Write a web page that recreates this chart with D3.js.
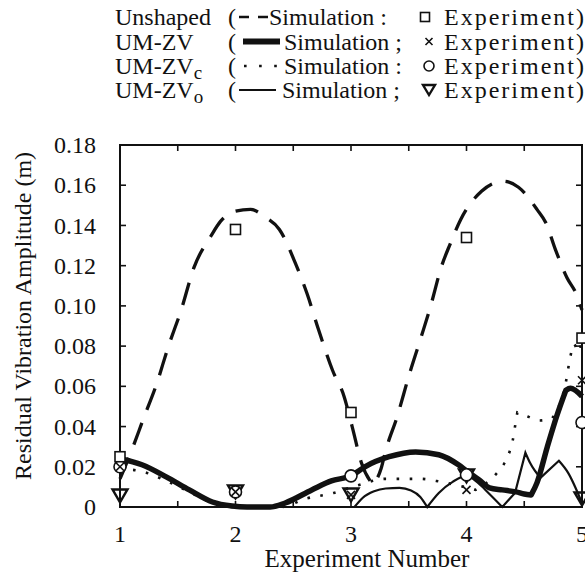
<!DOCTYPE html>
<html>
<head>
<meta charset="utf-8">
<script src="https://cdn.jsdelivr.net/npm/d3@7"></script>
<style>
    body { margin: 0; background: #fff; }
    svg text { font-family: "Liberation Serif", "Times New Roman", serif; fill: #111; }
</style>
</head>
<body>
<div id="chart"></div>
<script>
// == DATA == //
const experimentNumbers = [1, 2, 3, 4, 5];
const xTickValues = [1, 1.5, 2, 2.5, 3, 3.5, 4, 4.5, 5];
const yTickValues = [0, 0.02, 0.04, 0.06, 0.08, 0.10, 0.12, 0.14, 0.16, 0.18];
const yTickLabels = ["0", "0.02", "0.04", "0.06", "0.08", "0.10", "0.12", "0.14", "0.16", "0.18"];

// simulation curves [experiment number, amplitude]
const unshapedSim = [[1.00, 0.014], [1.10, 0.028], [1.21, 0.045], [1.31, 0.060], [1.42, 0.080], [1.53, 0.098],
    [1.64, 0.119], [1.79, 0.135], [1.87, 0.142], [1.99, 0.147], [2.13, 0.148], [2.26, 0.144], [2.38, 0.138],
    [2.52, 0.121], [2.62, 0.106], [2.72, 0.088], [2.84, 0.068], [2.94, 0.055], [3.01, 0.040], [3.09, 0.022],
    [3.19, 0.011], [3.26, 0.019], [3.30, 0.028], [3.40, 0.045], [3.50, 0.065], [3.61, 0.085], [3.69, 0.100],
    [3.78, 0.119], [3.86, 0.131], [3.95, 0.143], [4.13, 0.157], [4.32, 0.162], [4.45, 0.159], [4.61, 0.148],
    [4.69, 0.141], [4.77, 0.128], [4.87, 0.114], [4.95, 0.106], [5.00, 0.098]];
const zvSim = [[1.00, 0.024], [1.19, 0.021], [1.40, 0.015], [1.60, 0.0085], [1.80, 0.0025], [1.97, 0.0005],
    [2.10, 0], [2.30, 0], [2.43, 0.002], [2.66, 0.0085], [2.83, 0.013], [3.00, 0.0155], [3.12, 0.020],
    [3.33, 0.025], [3.56, 0.0274], [3.76, 0.026], [3.93, 0.021], [4.00, 0.018], [4.11, 0.0134], [4.20, 0.0095],
    [4.31, 0.0085], [4.43, 0.0075], [4.50, 0.0065], [4.56, 0.006], [4.61, 0.012], [4.70, 0.030], [4.78, 0.045],
    [4.86, 0.058], [4.90, 0.059], [5.00, 0.055]];
const zvcSim = [[1.00, 0.019], [1.20, 0.0175], [1.40, 0.013], [1.60, 0.0075], [1.80, 0.002], [1.95, 0],
    [2.40, 0], [2.60, 0.004], [2.85, 0.007], [3.07, 0.011], [3.30, 0.014], [3.60, 0.014], [3.78, 0.0125],
    [4.08, 0.0085], [4.25, 0.016], [4.33, 0.022], [4.37, 0.027], [4.40, 0.033], [4.42, 0.040], [4.44, 0.047],
    [4.53, 0.045], [4.63, 0.043], [4.74, 0.044], [4.86, 0.062], [4.90, 0.075], [4.93, 0.081], [4.97, 0.077],
    [5.00, 0.084]];
const zvoSim = [[1.00, 0], [3.03, 0], [3.10, 0.0045], [3.20, 0.0078], [3.30, 0.0092], [3.42, 0.0095],
    [3.52, 0.0082], [3.60, 0.005], [3.66, 0], [3.76, 0.007], [3.88, 0.0125], [4.00, 0.0155], [4.10, 0.012],
    [4.19, 0.007], [4.31, 0], [4.42, 0.007], [4.51, 0.027], [4.55, 0.022], [4.64, 0.0145], [4.80, 0.023],
    [4.88, 0.017], [5.00, 0.002]];

// sharp corners in the simulation curves
const unshapedCusps = [3.19];
const zvCusps = [4.56, 4.86];
const zvcCusps = [4.08, 4.44, 4.74];
const zvoCusps = [3.03, 3.66, 4.31, 4.42, 4.51, 4.64, 4.80];

// experiment values at experiment 1..5
const unshapedExp = [0.025, 0.138, 0.047, 0.134, 0.084];
const zvExp = [0.020, 0.0075, 0.006, 0.0085, 0.063];
const zvcExp = [0.020, 0.0075, 0.0155, 0.016, 0.042];
const zvoExp = [0.0055, 0.0075, 0.006, 0.0155, 0.004];

class ResidualChart {

    constructor(parentElement) {
        this.parentElement = parentElement;
        this.initVis();
    }

    initVis() {
        let vis = this;

        vis.width = 585;
        vis.height = 580;
        vis.plot = {left: 120, right: 582, top: 145, bottom: 507};

        vis.svg = d3.select("#" + vis.parentElement).append("svg")
            .attr("width", vis.width)
            .attr("height", vis.height);

        vis.x = d3.scaleLinear().domain([1, 5]).range([vis.plot.left, vis.plot.right]);
        vis.y = d3.scaleLinear().domain([0, 0.18]).range([vis.plot.bottom, vis.plot.top]);

        vis.drawAxes();
        vis.drawCurves();
        vis.drawMarkers();
        vis.drawLegend();
    }

    drawAxes() {
        let vis = this;
        let p = vis.plot;
        let tick = 6;

        // inward ticks on all four sides
        let ax = vis.svg.append("g").attr("stroke", "#111").attr("stroke-width", 1.6);
        ax.selectAll(".xtb").data(xTickValues).enter().append("line")
            .attr("x1", d => vis.x(d)).attr("x2", d => vis.x(d))
            .attr("y1", p.bottom).attr("y2", p.bottom - tick);
        ax.selectAll(".xtt").data(xTickValues).enter().append("line")
            .attr("x1", d => vis.x(d)).attr("x2", d => vis.x(d))
            .attr("y1", p.top).attr("y2", p.top + tick);
        ax.selectAll(".ytl").data(yTickValues).enter().append("line")
            .attr("y1", d => vis.y(d)).attr("y2", d => vis.y(d))
            .attr("x1", p.left).attr("x2", p.left + tick);
        ax.selectAll(".ytr").data(yTickValues).enter().append("line")
            .attr("y1", d => vis.y(d)).attr("y2", d => vis.y(d))
            .attr("x1", p.right).attr("x2", p.right - tick);

        vis.svg.append("rect")
            .attr("x", p.left).attr("y", p.top)
            .attr("width", p.right - p.left).attr("height", p.bottom - p.top)
            .attr("fill", "none").attr("stroke", "#111").attr("stroke-width", 2);

        // tick labels
        vis.svg.selectAll(".xlab").data(experimentNumbers).enter().append("text")
            .attr("x", d => vis.x(d)).attr("y", 542)
            .attr("text-anchor", "middle").attr("font-size", 24)
            .text(d => d);
        vis.svg.selectAll(".ylab").data(yTickValues).enter().append("text")
            .attr("x", 96).attr("y", d => vis.y(d)).attr("dy", "0.34em")
            .attr("text-anchor", "end").attr("font-size", 24)
            .text((d, i) => yTickLabels[i]);

        // axis titles
        vis.svg.append("text")
            .attr("x", 367).attr("y", 567)
            .attr("text-anchor", "middle").attr("font-size", 25)
            .text("Experiment Number");
        vis.svg.append("text")
            .attr("transform", "translate(31,316) rotate(-90)")
            .attr("text-anchor", "middle").attr("font-size", 24)
            .text("Residual Vibration Amplitude (m)");
    }

    curvePath(points, cusps) {
        let vis = this;
        let line = d3.line()
            .x(d => vis.x(d[0]))
            .y(d => vis.y(d[1]))
            .curve(d3.curveMonotoneX);

        // split at the sharp corners, then join as one path so dashes run on
        let segs = [[]];
        points.forEach(pt => {
            segs[segs.length - 1].push(pt);
            if (cusps.includes(pt[0])) segs.push([pt]);
        });
        return segs.filter(s => s.length > 1)
            .map((s, i) => i ? line(s).replace(/^M/, "L") : line(s))
            .join("");
    }

    drawCurves() {
        let vis = this;
        let g = vis.svg.append("g").attr("fill", "none").attr("stroke", "#111");

        g.append("path")
            .attr("d", vis.curvePath(zvoSim, zvoCusps))
            .attr("stroke-width", 2.2)
            .attr("stroke-linejoin", "miter");
        g.append("path")
            .attr("d", vis.curvePath(zvcSim, zvcCusps))
            .attr("stroke-width", 2.6)
            .attr("stroke-dasharray", "2.6,10.5");
        g.append("path")
            .attr("d", vis.curvePath(unshapedSim, unshapedCusps))
            .attr("stroke-width", 3.3)
            .attr("stroke-dasharray", "23,14");
        g.append("path")
            .attr("d", vis.curvePath(zvSim, zvCusps))
            .attr("stroke-width", 5.5)
            .attr("stroke-linejoin", "round");
    }

    square(g, cx, cy, s) {
        g.append("rect").attr("x", cx - s / 2).attr("y", cy - s / 2)
            .attr("width", s).attr("height", s)
            .attr("fill", "#fff").attr("stroke", "#111").attr("stroke-width", 1.6);
    }

    cross(g, cx, cy, s) {
        g.append("path")
            .attr("d", `M${cx - s / 2},${cy - s / 2}L${cx + s / 2},${cy + s / 2}M${cx - s / 2},${cy + s / 2}L${cx + s / 2},${cy - s / 2}`)
            .attr("fill", "none").attr("stroke", "#111").attr("stroke-width", 1.6);
    }

    circle(g, cx, cy, r) {
        g.append("circle").attr("cx", cx).attr("cy", cy).attr("r", r)
            .attr("fill", "#fff").attr("stroke", "#111").attr("stroke-width", 1.6);
    }

    triangle(g, cx, cy, w, h) {
        g.append("path")
            .attr("d", `M${cx - w / 2},${cy - h / 2}L${cx + w / 2},${cy - h / 2}L${cx},${cy + h / 2}Z`)
            .attr("fill", "none").attr("stroke", "#111").attr("stroke-width", 2.4)
            .attr("stroke-linejoin", "miter");
    }

    drawMarkers() {
        let vis = this;
        let g = vis.svg.append("g");

        experimentNumbers.forEach((n, i) => {
            let cx = vis.x(n);
            vis.triangle(g, cx, vis.y(zvoExp[i]), 15, 13);
            vis.circle(g, cx, vis.y(zvcExp[i]), 6);
            vis.cross(g, cx, vis.y(zvExp[i]), 8);
            vis.square(g, cx, vis.y(unshapedExp[i]), 10);
        });
    }

    drawLegend() {
        let vis = this;
        let g = vis.svg.append("g").attr("font-size", 24);
        let rows = [25, 49.5, 74, 98];
        let names = [["Unshaped", ""], ["UM-ZV", ""], ["UM-ZV", "c"], ["UM-ZV", "o"]];
        let seps = [":", ";", ":", ";"];
        let simX = [269, 284, 284, 282];

        rows.forEach((ry, i) => {
            let t = g.append("text").attr("x", 115).attr("y", ry).text(names[i][0]);
            if (names[i][1]) {
                t.append("tspan").attr("dy", 5).attr("font-size", 19).text(names[i][1]);
            }
            g.append("text").attr("x", 228).attr("y", ry).text("(");
            g.append("text").attr("x", simX[i]).attr("y", ry).text("Simulation " + seps[i]);
            g.append("text").attr("x", 444).attr("y", ry)
                .attr("textLength", 140).attr("lengthAdjust", "spacing")
                .text("Experiment)");
        });

        let sy = d => d - 8;
        g.append("line").attr("x1", 239).attr("x2", 268).attr("y1", sy(rows[0])).attr("y2", sy(rows[0]))
            .attr("stroke", "#111").attr("stroke-width", 2.6).attr("stroke-dasharray", "10,9");
        g.append("line").attr("x1", 243).attr("x2", 280).attr("y1", sy(rows[1])).attr("y2", sy(rows[1]))
            .attr("stroke", "#111").attr("stroke-width", 6);
        g.append("line").attr("x1", 244).attr("x2", 278).attr("y1", sy(rows[2])).attr("y2", sy(rows[2]))
            .attr("stroke", "#111").attr("stroke-width", 2.6).attr("stroke-dasharray", "2.6,12.5");
        g.append("line").attr("x1", 239).attr("x2", 276).attr("y1", sy(rows[3])).attr("y2", sy(rows[3]))
            .attr("stroke", "#111").attr("stroke-width", 2.2);

        vis.square(g, 425, sy(rows[0]), 9);
        vis.cross(g, 429, sy(rows[1]), 7);
        vis.circle(g, 429, sy(rows[2]), 5);
        vis.triangle(g, 429, sy(rows[3]), 12, 10);
    }
}

new ResidualChart("chart");
</script>
</body>
</html>
